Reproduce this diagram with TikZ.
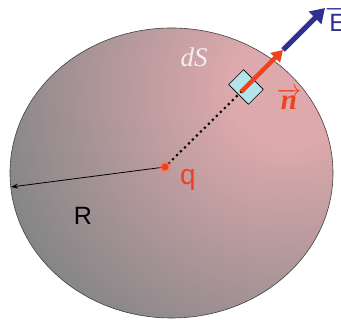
\documentclass[tikz,border=0pt]{standalone}
\usepackage{fontspec}
\setmainfont{Liberation Serif}
\setsansfont{Liberation Sans}
\usetikzlibrary{arrows.meta, positioning}
\definecolor{sphgray}{HTML}{868688}
\definecolor{sphpink}{HTML}{DDA9AC}
\definecolor{chargered}{HTML}{F0401E}
\definecolor{fieldblue}{HTML}{2E3192}
\definecolor{patchblue}{HTML}{B5E3EA}
\pgfdeclareradialshading{sphereshade}{\pgfpoint{0bp}{0bp}}{%
  color(0bp)=(sphpink); color(2.5bp)=(sphpink); color(13bp)=(sphgray); color(50bp)=(sphgray)}

\begin{document}
\begin{tikzpicture}[x=1pt, y=1pt, >=Stealth,
    biglabel/.style={font=\sffamily\fontsize{25}{25}\selectfont, inner sep=0pt, anchor=base},
    thickvec/.style={line width=5pt, -{Triangle[length=14pt, width=17pt]}}]
  \useasboundingbox[fill=white] (0,0) rectangle (341,320);
  % sphere with shading
  \begin{scope}
    \clip (171.5,147) ellipse [x radius=161.5pt, y radius=145pt];
    \shade[shading=sphereshade] (288,232) circle (570pt);
  \end{scope}
  \draw[black!75, line width=0.6pt] (171.5,147) ellipse [x radius=161.5pt, y radius=145pt];
  % points
  \coordinate (q) at (165,153);
  \coordinate (redge) at (11,133);
  \coordinate (foot) at (241,228);
  \coordinate (rim) at (283,270);
  \coordinate (tipE) at (325,312);
  % radius
  \draw[line width=0.8pt, -{Stealth[length=7pt, width=5pt]}] (q) -- (redge);
  \node[biglabel] (Rlab) at (83,95) {R};
  % dotted line to the patch
  \draw[line width=3pt, dash pattern=on 0pt off 5.6pt, line cap=round] (q) -- (foot);
  % charge
  \fill[chargered!70, opacity=0.6] (q) circle (6pt);
  \fill[chargered] (q) circle (3.5pt);
  \node[biglabel, chargered, font=\sffamily\fontsize{28}{28}\selectfont] (qlab) at (188,135) {q};
  % surface element
  \node[draw, fill=patchblue, rotate=45, minimum width=21pt, minimum height=28pt,
        inner sep=0pt, line width=0.6pt] (dA) at (246,233) {};
  \fill (foot) circle (1.5pt);
  \node[anchor=base, inner sep=0pt, text=white!88!gray,
        font=\itshape\fontsize{27}{27}\selectfont] (dS) at (194,253) {dS};
  % field and normal
  \draw[thickvec, fieldblue] (rim) -- (tipE);
  \draw[line width=4.5pt, chargered, -{Triangle[length=11pt, width=13pt]}] (foot) -- (rim);
  \node[anchor=base, inner sep=0pt, text=chargered,
        font=\bfseries\itshape\fontsize{29}{29}\selectfont] (nlab) at (289,210)
        {$\overrightarrow{\mbox{n}}$};
  \node[anchor=base west, inner sep=0pt, text=fieldblue,
        font=\sffamily\fontsize{25}{25}\selectfont] (Elab) at (325,288)
        {$\overrightarrow{\mbox{E}}$};
\end{tikzpicture}
\end{document}
